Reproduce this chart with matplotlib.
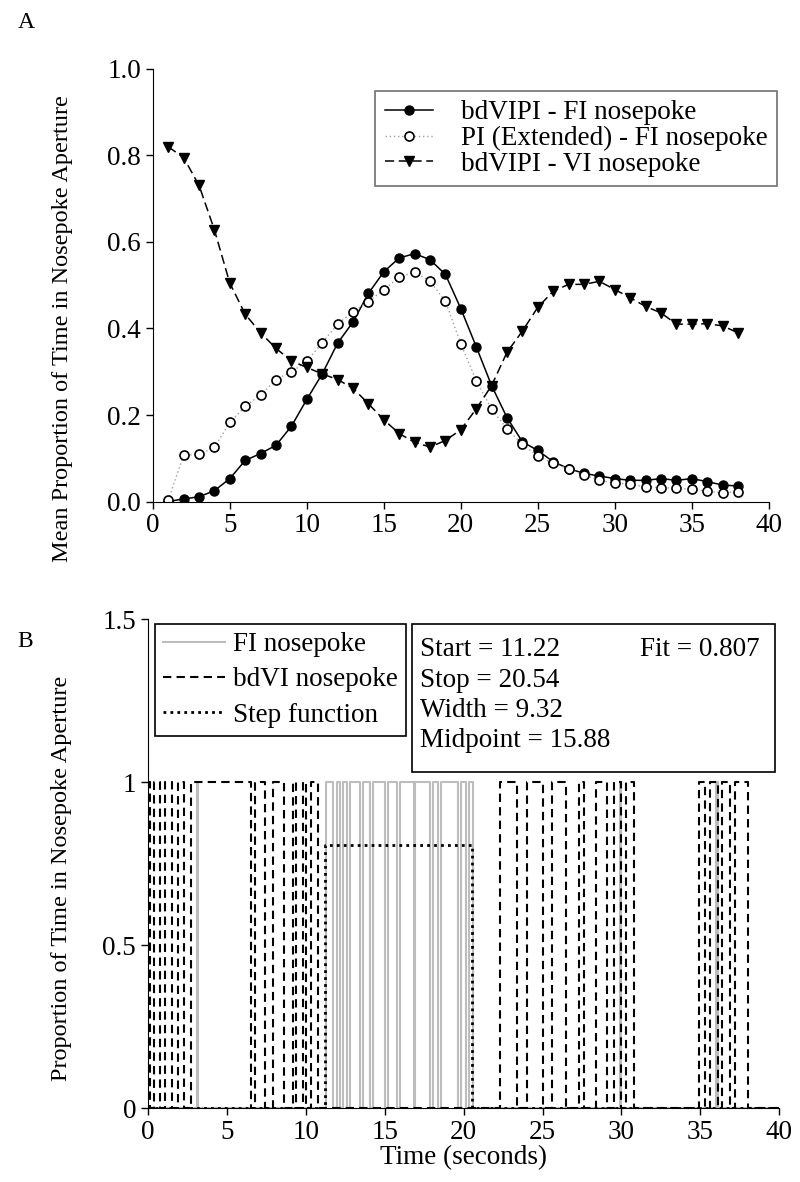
import matplotlib
matplotlib.use("Agg")
import matplotlib.pyplot as plt
from matplotlib.patches import Rectangle

plt.rcParams["font.family"] = ["Liberation Serif", "DejaVu Serif"]
plt.rcParams["font.size"] = 19.5

# Panel A: mean proportion of time in nosepoke aperture per second
seconds = list(range(1, 39))
bdvipi_fi = [0.0, 0.006, 0.011, 0.025, 0.053, 0.095, 0.111, 0.130, 0.174, 0.236,
             0.295, 0.366, 0.415, 0.481, 0.531, 0.563, 0.573, 0.559, 0.525, 0.446,
             0.358, 0.268, 0.194, 0.138, 0.118, 0.092, 0.076, 0.065, 0.059, 0.053,
             0.049, 0.049, 0.053, 0.049, 0.053, 0.046, 0.038, 0.036]
pi_extended_fi = [0.003, 0.107, 0.109, 0.125, 0.183, 0.220, 0.246, 0.282, 0.300, 0.324,
                  0.367, 0.410, 0.439, 0.462, 0.490, 0.518, 0.531, 0.509, 0.463, 0.365,
                  0.279, 0.214, 0.168, 0.132, 0.105, 0.088, 0.076, 0.061, 0.049, 0.043,
                  0.040, 0.034, 0.032, 0.031, 0.028, 0.024, 0.020, 0.022]
bdvipi_vi = [0.820, 0.795, 0.731, 0.628, 0.505, 0.433, 0.390, 0.354, 0.325, 0.310,
             0.295, 0.282, 0.262, 0.226, 0.189, 0.157, 0.137, 0.126, 0.141, 0.166,
             0.214, 0.268, 0.345, 0.394, 0.449, 0.486, 0.502, 0.502, 0.509, 0.490,
             0.471, 0.451, 0.436, 0.410, 0.410, 0.411, 0.406, 0.390]

# Panel B: single trial, times (s) at which each 0/1 record switches state
bdvi_start = 1
bdvi_switches = [0.1, 0.35, 0.75, 1.1, 1.5, 1.9, 2.3, 2.7,
                 6.5, 6.8, 7.4, 7.9, 8.6, 9.2, 9.4, 9.8, 10.0, 10.3, 10.8,
                 22.3, 23.4, 24.0, 25.0, 25.6, 26.5, 27.3, 27.6, 28.4, 29.1, 29.5,
                 30.0, 30.3, 30.8,
                 34.9, 35.3, 35.6, 36.1, 36.4, 36.9, 37.2, 38.0]
fi_start = 0
fi_switches = [3.1, 3.2,
               11.3, 11.75, 12.0, 12.19, 12.35, 12.63, 12.83, 13.46, 13.6, 14.1, 14.29,
               15.05, 15.24, 15.81, 16.0, 16.83, 16.95, 17.9, 18.05, 18.35, 18.54,
               19.62, 19.81, 20.13, 20.32, 20.57,
               29.9, 30.0, 36.0, 36.1]
step_edges = [0, 11.22, 20.54, 40]
step_levels = [0, 0.807, 0]
fit_start, fit_stop, fit_width, fit_mid, fit_r = 11.22, 20.54, 9.32, 15.88, 0.807
trial_end = 40


def switch_path(start, switches, end):
    xs, ys, s = [0], [start], start
    for t in switches:
        xs += [t, t]
        ys += [s, 1 - s]
        s = 1 - s
    xs.append(end)
    ys.append(s)
    return xs, ys


fig = plt.figure(figsize=(8, 11.82), dpi=100)

# ---- Panel A
ax = fig.add_axes([0.191, 0.5757, 0.77, 0.366])
ax.plot(seconds, bdvipi_fi, color="black", lw=1.1, marker="o", ms=6.5,
        mfc="black", mec="black", label="bdVIPI - FI nosepoke")
ax.plot(seconds, pi_extended_fi, color="#a0a0a0", lw=1.0, ls=(0, (1, 2)), marker="o", ms=6.5,
        mfc="white", mec="black", mew=1.2, label="PI (Extended) - FI nosepoke")
ax.plot(seconds, bdvipi_vi, color="black", lw=1.1, ls=(0, (6, 3)), marker="v", ms=7.5,
        mfc="black", mec="black", label="bdVIPI - VI nosepoke")
ax.set_xlim(0, 40)
ax.set_ylim(0, 1.0)
ax.set_xticks(range(0, 41, 5))
ax.set_yticks([0, 0.2, 0.4, 0.6, 0.8, 1.0])
ax.set_yticklabels(["0.0", "0.2", "0.4", "0.6", "0.8", "1.0"])
ax.spines[["top", "right"]].set_visible(False)
ax.tick_params(direction="out", length=5, width=1)
ax.set_ylabel("Mean Proportion of Time in Nosepoke Aperture", fontsize=17.5)
ax.yaxis.set_label_coords(-0.13, 0.40)
leg = ax.legend(loc="upper right", bbox_to_anchor=(1.013, 0.949), borderaxespad=0,
                fancybox=False, edgecolor="#707070", handlelength=1.8, handletextpad=1.0,
                labelspacing=0.02, borderpad=0.35, framealpha=1)
leg.get_frame().set_linewidth(1.2)
fig.text(0.022, 0.981, "A", fontsize=17, va="center")

# ---- Panel B
bx = fig.add_axes([0.185, 0.0626, 0.789, 0.4137])
fx, fy = switch_path(fi_start, fi_switches, trial_end)
vx, vy = switch_path(bdvi_start, bdvi_switches, trial_end)
bx.plot(fx, fy, color="#bdbdbd", lw=1.5, label="FI nosepoke")
bx.plot(vx, vy, color="black", lw=1.5, ls=(0, (4, 2.5)), label="bdVI nosepoke")
bx.plot(step_edges, step_levels + [step_levels[-1]], drawstyle="steps-post",
        color="black", lw=2, ls=(0, (1, 1.5)), label="Step function")
bx.set_xlim(0, 40)
bx.set_ylim(0, 1.5)
bx.set_xticks(range(0, 41, 5))
bx.set_yticks([0, 0.5, 1, 1.5])
bx.set_yticklabels(["0", "0.5", "1", "1.5"])
bx.spines[["top", "right"]].set_visible(False)
bx.tick_params(direction="out", length=5, width=1)
bx.set_xlabel("Time (seconds)", labelpad=0)
bx.set_ylabel("Proportion of Time in Nosepoke Aperture", fontsize=17.5)
bx.yaxis.set_label_coords(-0.12, 0.47)
legb = bx.legend(loc="upper left", bbox_to_anchor=(0.011, 0.99), borderaxespad=0,
                 fancybox=False, edgecolor="black", handlelength=2.3, handletextpad=0.3,
                 labelspacing=0.38, borderpad=0.3, framealpha=1)
legb.get_frame().set_linewidth(1.2)
bx.add_patch(Rectangle((0.418, 0.687), 0.576, 0.303, transform=bx.transAxes,
                       fill=True, facecolor="white", edgecolor="black", lw=1.2, zorder=5))
fit_lines = [f"Start = {fit_start:.2f}", f"Stop = {fit_stop:.2f}",
             f"Width = {fit_width:.2f}", f"Midpoint = {fit_mid:.2f}"]
for i, s in enumerate(fit_lines):
    bx.text(0.431, 0.937 - i * 0.062, s, transform=bx.transAxes, va="center", zorder=6)
bx.text(0.78, 0.937, f"Fit = {fit_r:.3f}", transform=bx.transAxes, va="center", zorder=6)
fig.text(0.022, 0.457, "B", fontsize=17, va="center")

fig.savefig("out.png", dpi=100)
